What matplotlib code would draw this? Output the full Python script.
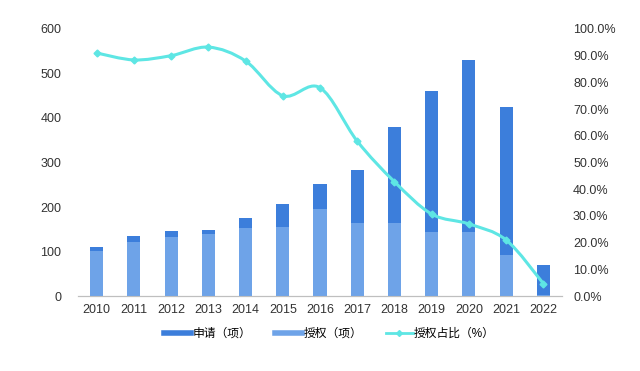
import numpy as np
import matplotlib
matplotlib.use("Agg")
import matplotlib.pyplot as plt
from matplotlib.path import Path
from matplotlib.patches import PathPatch
from matplotlib.lines import Line2D
from matplotlib.ticker import FuncFormatter

plt.rcParams['font.family'] = ['Liberation Sans', 'Noto Sans CJK SC']

# Data
years = ["2010", "2011", "2012", "2013", "2014", "2015", "2016",
         "2017", "2018", "2019", "2020", "2021", "2022"]
applied = [110, 135, 146, 148, 175, 207, 252, 283, 380, 461, 530, 425, 70]
granted = [102, 122, 132, 139, 153, 155, 196, 165, 165, 143, 144, 92, 3]
ratio = [91.0, 88.4, 90.0, 93.2, 88.0, 75.0, 78.0, 58.0, 42.8, 30.7, 27.0, 21.0, 4.7]

c_dark = "#3C7EDB"
c_light = "#6EA3E8"
c_line = "#5EE6E4"

fig = plt.figure(figsize=(6.4, 3.71), dpi=100)
ax = fig.add_axes([0.122, 0.202, 0.756, 0.72])
ax2 = ax.twinx()

x = np.arange(len(years))
ax.bar(x, applied, width=0.35, color=c_dark, zorder=2)
ax.bar(x, granted, width=0.35, color=c_light, zorder=3)

ax.set_xlim(-0.5, len(years) - 0.5)
ax.set_ylim(0, 600)
ax.set_yticks(range(0, 601, 100))
ax.set_xticks(x)
ax.set_xticklabels(years)

ax2.set_ylim(0, 100)
ax2.set_yticks(range(0, 101, 10))
ax2.yaxis.set_major_formatter(FuncFormatter(lambda v, p: f"{v:.1f}%"))

for a in (ax, ax2):
    for s in ("top", "left", "right"):
        a.spines[s].set_visible(False)
    a.spines["bottom"].set_color("#BFBFBF")
    a.tick_params(length=0, labelsize=9, colors="#333333")
ax.tick_params(axis="y", pad=12)
ax.tick_params(axis="x", pad=6)
ax2.tick_params(axis="y", pad=8)

# smooth curve through the ratio points (Catmull-Rom -> cubic Bezier)
pts = np.column_stack([x, ratio]).astype(float)
verts = [tuple(pts[0])]
codes = [Path.MOVETO]
n = len(pts)
for i in range(n - 1):
    p0 = pts[max(i - 1, 0)]
    p1 = pts[i]
    p2 = pts[i + 1]
    p3 = pts[min(i + 2, n - 1)]
    c1 = p1 + (p2 - p0) / 6.0
    c2 = p2 - (p3 - p1) / 6.0
    verts += [tuple(c1), tuple(c2), tuple(p2)]
    codes += [Path.CURVE4] * 3
ax2.add_patch(PathPatch(Path(verts, codes), facecolor="none",
                        edgecolor=c_line, lw=2.2, zorder=4))
ax2.plot(x, ratio, linestyle="none", marker="D", markersize=3.5,
         color=c_line, zorder=5)

handles = [
    Line2D([], [], color=c_dark, lw=4),
    Line2D([], [], color=c_light, lw=4),
    Line2D([], [], color=c_line, lw=2, marker="D", markersize=3),
]
labels = ["申请（项）", "授权（项）", "授权占比（%）"]
fig.legend(handles, labels, loc="center", bbox_to_anchor=(0.515, 0.1),
           ncol=3, frameon=False, fontsize=8.5, handlelength=2.3,
           columnspacing=2.0, handletextpad=0.1)

fig.savefig("out.png", dpi=100)
